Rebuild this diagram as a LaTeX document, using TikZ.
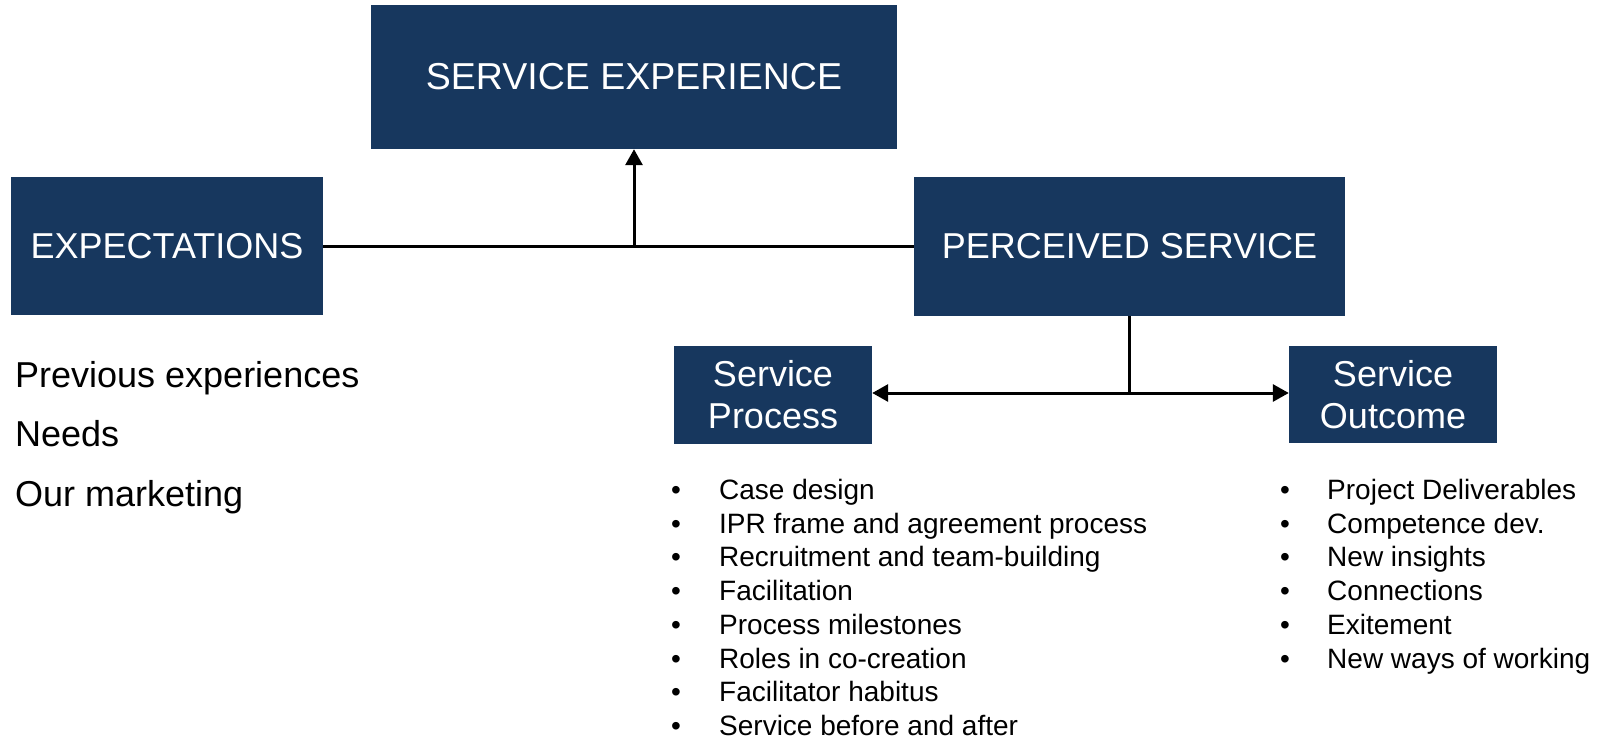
\documentclass[tikz,border=0pt]{standalone}
\usepackage{fontspec}
\setmainfont{Liberation Sans}
\usetikzlibrary{arrows.meta}
\definecolor{navy}{HTML}{17375E}
\begin{document}
\begin{tikzpicture}[x=1pt,y=-1pt,
  box/.style={fill=navy,text=white,inner sep=0pt,align=center,font=\fontsize{36}{42}\selectfont},
  conn/.style={line width=3pt,black},
  tip/.style={-{Triangle[length=16pt,width=17pt]}},
  note/.style={anchor=base west,inner sep=0pt,font=\fontsize{36}{41}\selectfont},
  item/.style={anchor=base west,inner sep=0pt,font=\fontsize{28}{34}\selectfont},
  dot/.style={anchor=base,inner sep=0pt,font=\fontsize{28}{34}\selectfont}]
\useasboundingbox (0,0) rectangle (1606,739);

% main boxes
\node[box,font=\fontsize{37.5}{42}\selectfont,minimum width=526pt,minimum height=144pt] (se) at (634,77) {SERVICE EXPERIENCE};
\node[box,minimum width=312pt,minimum height=138pt] (exp) at (167,246) {EXPECTATIONS};
\node[box,minimum width=431pt,minimum height=139pt] (ps) at (1129.5,246.5) {PERCEIVED SERVICE};
\node[box,minimum width=198pt,minimum height=98pt] (sp) at (773,395) {Service\\Process};
\node[box,minimum width=208pt,minimum height=97pt] (so) at (1393,394.5) {Service\\Outcome};

% connectors
\draw[conn] (exp.east) -- (exp.east -| ps.west);
\draw[conn,tip] (se.south |- exp.east) -- (se.south);
\coordinate (fork) at (ps.south |- 0,393);
\draw[conn] (ps.south) -- (fork);
\draw[conn,tip] (fork) -- (fork -| sp.east);
\draw[conn,tip] (fork) -- (fork -| so.west);

% expectation sources
\node[note] (n1) at (15,387) {Previous experiences};
\node[note] (n2) at (15,446) {Needs};
\node[note] (n3) at (15,506) {Our marketing};

% process items
\foreach \t [count=\i] in {Case design,IPR frame and agreement process,Recruitment and team-building,Facilitation,Process milestones,Roles in co-creation,Facilitator habitus,Service before and after}{
  \node[dot] (pb\i) at (676,{499.5+33.7*(\i-1)}) {•};
  \node[item] (pt\i) at (719,{499.5+33.7*(\i-1)}) {\t};
}

% outcome items
\foreach \t [count=\i] in {Project Deliverables,Competence dev.,New insights,Connections,Exitement,New ways of working}{
  \node[dot] (ob\i) at (1285,{499.5+33.7*(\i-1)}) {•};
  \node[item] (ot\i) at (1327,{499.5+33.7*(\i-1)}) {\t};
}
\end{tikzpicture}
\end{document}
